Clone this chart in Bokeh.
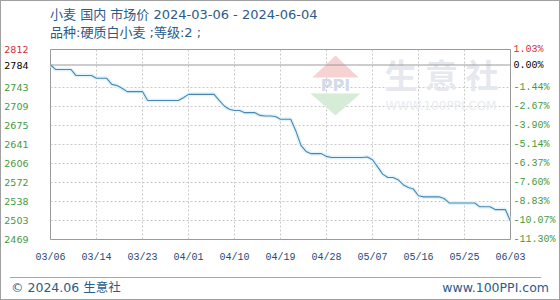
import pandas as pd
from bokeh.plotting import figure
from bokeh.layouts import column
from bokeh.models import (Range1d, LinearAxis, FixedTicker, Span, Label, PolyAnnotation, Div)
from bokeh.embed import file_html
from bokeh.resources import INLINE

# ---------------- data ----------------
dates = pd.date_range("2024-03-06", "2024-06-04", freq="D")
prices = [
    2784, 2776, 2776, 2776, 2776, 2765, 2765, 2765, 2765, 2760,
    2760, 2760, 2749, 2747, 2742, 2736, 2736, 2736, 2736, 2720,
    2720, 2720, 2720, 2720, 2720, 2720, 2725, 2731, 2731, 2731,
    2731, 2731, 2731, 2720, 2710, 2704, 2702, 2702, 2698, 2698,
    2698, 2693, 2692, 2692, 2691, 2686, 2686, 2686, 2665, 2639,
    2628, 2624, 2624, 2624, 2619, 2617, 2617, 2617, 2617, 2617,
    2617, 2617, 2618, 2613, 2600, 2587, 2581, 2581, 2577, 2568,
    2563, 2560, 2548, 2546, 2546, 2546, 2546, 2543, 2535, 2535,
    2535, 2535, 2535, 2535, 2528, 2528, 2528, 2523, 2523, 2523,
    2502,
]
x_labels = ["03/06", "03/14", "03/23", "04/01", "04/10", "04/19",
            "04/28", "05/07", "05/16", "05/25", "06/03"]
y_ticks = [2469, 2503, 2538, 2572, 2606, 2641, 2675, 2709, 2743, 2784, 2812]
pct_labels = ["-11.30%", "-10.07%", "-8.83%", "-7.60%", "-6.37%", "-5.14%",
              "-3.90%", "-2.67%", "-1.44%", "0.00%", "1.03%"]
title_text = "小麦 国内 市场价 2024-03-06 - 2024-06-04"
subtitle_text = "品种:硬质白小麦 ;等级:2 ;"
footer_left = "© 2024.06 生意社"
footer_right = "www.100PPI.com"

n = len(prices)
x = list(range(n))
base = prices[0]
y_low, y_high = y_ticks[0], y_ticks[-1]
step = (n - 1) // (len(x_labels) - 1)
x_tick_pos = [i * step for i in range(len(x_labels))]
special = (base, y_high)
pct_of = dict(zip(y_ticks, pct_labels))

GREEN = "#3f9a3f"
RED = "#d0303c"
BLUE_TXT = "#2a5b8a"
MONO = "Liberation Mono"
LEFT_FONT = "9.5px"

p = figure(width=558, height=236, frame_width=460, frame_height=190,
           output_backend="svg", toolbar_location=None,
           x_range=Range1d(0, n - 1), y_range=Range1d(y_low, y_high),
           min_border_left=49, min_border_right=49, min_border_top=8,
           min_border_bottom=38)
p.title.visible = False
p.background_fill_color = "white"
p.border_fill_color = "white"
p.outline_line_color = "#9a9a9a"
p.outline_line_width = 1

# grids
p.xgrid.ticker = FixedTicker(ticks=x_tick_pos[1:-1])
p.ygrid.ticker = FixedTicker(ticks=[t for t in y_ticks if t not in (y_low, y_high, base)])
for g in (p.xgrid, p.ygrid):
    g.grid_line_color = "#c8c8c8"
    g.grid_line_dash = "2 2"
    g.grid_line_width = 1

# base line (first value)
p.add_layout(Span(location=base, dimension="width", line_color="#9a9a9a", line_width=1))


def style_axis(ax, standoff, font, size, color, collapse=False):
    ax.axis_line_color = None
    ax.major_tick_line_color = None
    ax.minor_tick_line_color = None
    ax.major_tick_out = 0
    ax.major_tick_in = 0
    ax.minor_tick_out = 0
    ax.minor_tick_in = 0
    ax.major_label_standoff = standoff
    ax.major_label_text_font = font
    ax.major_label_text_font_size = size
    ax.major_label_text_color = color
    if collapse:
        # blank axis label with a large negative standoff: the axis takes no
        # room in the side panel, so several axes can share the same place
        ax.axis_label = " "
        ax.axis_label_standoff = -200
        ax.axis_label_text_font_size = "6px"


# x axis
xa = p.xaxis[0]
xa.ticker = FixedTicker(ticks=x_tick_pos)
xa.major_label_overrides = {t: lab for t, lab in zip(x_tick_pos, x_labels)}
style_axis(xa, 12, MONO, "10px", "#234b78")

# left axis: green labels
ya = p.yaxis[0]
ya.ticker = FixedTicker(ticks=y_ticks)
ya.major_label_overrides = {t: ("" if t in special else str(t)) for t in y_ticks}
style_axis(ya, 22, "DejaVu Sans", LEFT_FONT, GREEN, collapse=True)

# right axis (percent change vs. first value): green labels
ra = LinearAxis(ticker=FixedTicker(ticks=y_ticks))
ra.major_label_overrides = {t: ("" if t in special else lab) for t, lab in zip(y_ticks, pct_labels)}
style_axis(ra, 3, MONO, "10px", GREEN, collapse=True)
p.add_layout(ra, "right")

# same-place axes for the top value (red) and the first value (black)
for t, col in ((y_high, RED), (base, "black")):
    la = LinearAxis(ticker=FixedTicker(ticks=[t]))
    style_axis(la, 22, "DejaVu Sans", LEFT_FONT, col, collapse=True)
    p.add_layout(la, "left")
    rb = LinearAxis(ticker=FixedTicker(ticks=[t]))
    rb.major_label_overrides = {t: pct_of[t]}
    style_axis(rb, 3, MONO, "10px", col, collapse=True)
    p.add_layout(rb, "right")

# watermark
p.add_layout(PolyAnnotation(xs=[285, 262, 308], ys=[184, 162, 162], xs_units="screen", ys_units="screen",
                            fill_color="#f6d2d2", fill_alpha=1, line_color=None, level="underlay"))
p.add_layout(PolyAnnotation(xs=[260, 310, 285], ys=[146, 146, 124], xs_units="screen", ys_units="screen",
                            fill_color="#d6ecd6", fill_alpha=1, line_color=None, level="underlay"))
p.add_layout(Label(x=285, y=154, x_units="screen", y_units="screen", text="PPI",
                   text_align="center", text_baseline="middle", text_color="#d3dae8",
                   text_font="DejaVu Sans", text_font_size="16px", text_font_style="bold",
                   level="underlay"))
p.add_layout(Label(x=334, y=166, x_units="screen", y_units="screen", text="生 意 社",
                   text_align="left", text_baseline="middle", text_color="#e5e9ef",
                   text_font="Noto Sans CJK SC", text_font_size="33px", text_font_style="bold",
                   level="underlay"))
p.add_layout(Label(x=335, y=134, x_units="screen", y_units="screen", text="WWW.100PPI.COM",
                   text_align="left", text_baseline="middle", text_color="#e8ebf0",
                   text_font="DejaVu Sans", text_font_size="12px", level="underlay"))

# series
p.line(x, prices, line_color="#e2f4fb", line_width=4)
p.line(x, prices, line_color="#4a87b0", line_width=1.1)

FONT_CSS = "font-family:'DejaVu Sans','Noto Sans CJK SC';color:#2a5b8a;"

# header (two title lines)
header_html = (
    f'<div style="position:relative;width:558px;height:40px;{FONT_CSS}font-size:13px;">'
    f'<div style="position:absolute;left:49px;top:5px;line-height:18px;white-space:nowrap;">{title_text}</div>'
    f'<div style="position:absolute;left:49px;top:23px;line-height:18px;white-space:nowrap;">{subtitle_text}</div>'
    '</div>'
)
header = Div(text=header_html, width=558, height=40, margin=(0, 0, 0, 0))

# footer
footer_html = (
    f'<div style="position:relative;width:558px;height:22px;{FONT_CSS}font-size:12.5px;">'
    '<div style="position:absolute;left:9px;top:0;width:531px;border-top:1px solid #a8a8a8;"></div>'
    f'<div style="position:absolute;left:10px;top:3px;line-height:16px;white-space:nowrap;">{footer_left}</div>'
    f'<div style="position:absolute;right:10px;top:3px;line-height:16px;white-space:nowrap;">{footer_right}</div>'
    '</div>'
)
footer = Div(text=footer_html, width=558, height=22, margin=(0, 0, 0, 0))

layout = column(header, p, footer, spacing=0,
                styles={"border": "1px solid #a0a0a0", "background": "white"})

open("out.html", "w").write(file_html(layout, INLINE))
